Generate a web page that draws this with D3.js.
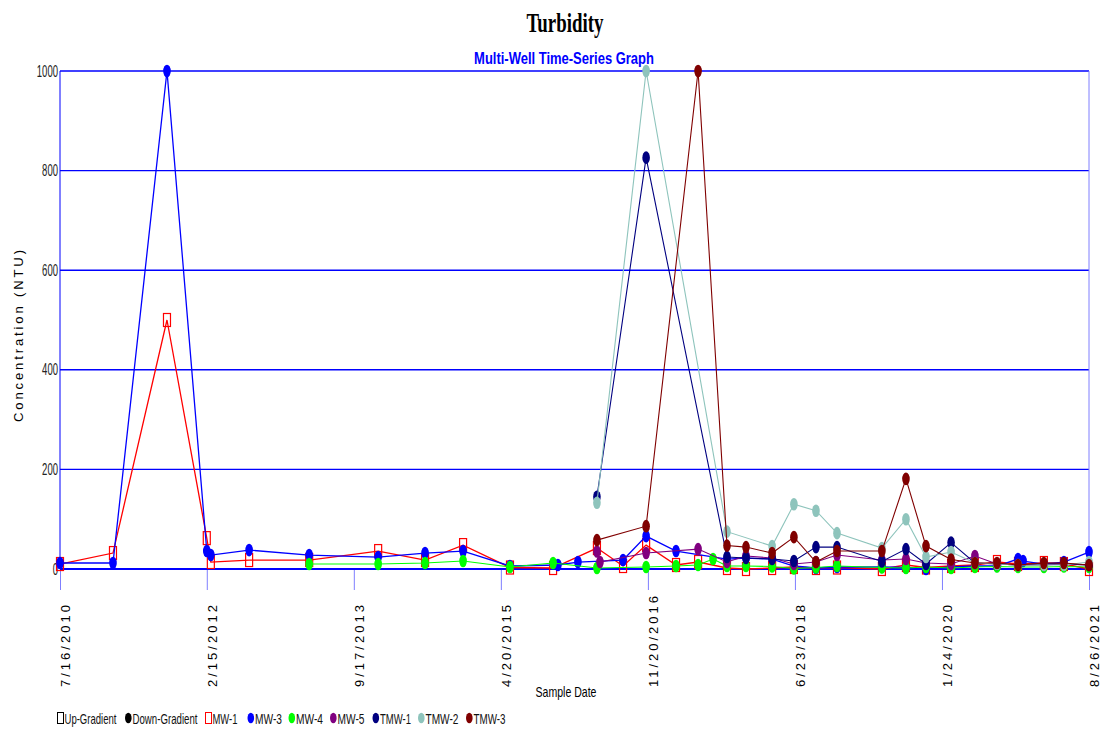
<!DOCTYPE html>
<html>
<head>
<meta charset="utf-8">
<script src="https://cdn.jsdelivr.net/npm/d3@7"></script>
<style>
  html, body { margin: 0; padding: 0; background: #fff; }
  svg { display: block; }
  text { font-family: "Liberation Sans", Arial, sans-serif; }
</style>
</head>
<body>
<svg id="chart" width="1108" height="733"></svg>
<script>
// ---------------- data ----------------
const seriesNames = ["MW-1", "MW-3", "MW-4", "MW-5", "TMW-1", "TMW-2", "TMW-3"];
const seriesColors = ["#ff0000", "#0000ff", "#00ff00", "#800080", "#000080", "#8ec4bc", "#800000"];

const mw1Dates = ["2010-07-16","2011-02-10","2011-09-11","2012-02-15","2012-03-02","2012-07-31","2013-03-25","2013-12-22","2014-06-25","2014-11-22","2015-05-26","2015-11-12","2016-05-03","2016-08-14","2016-11-13","2017-03-11","2017-06-06","2017-09-28","2017-12-12","2018-03-25","2018-06-19","2018-09-14","2018-12-06","2019-06-01","2019-09-04","2019-11-22","2020-02-29","2020-06-02","2020-08-28","2020-11-19","2021-03-01","2021-05-19","2021-08-26"];
const mw1Values = [10,32,500,62,14,18,18,36,18,48,3,2,42,6,48,8,14,2,0,2,4,2,3,0,8,3,6,8,14,10,12,10,0];

const mw3Dates = ["2010-07-16","2011-02-10","2011-09-11","2012-02-15","2012-03-02","2012-07-31","2013-03-25","2013-12-22","2014-06-25","2014-11-22","2015-05-26","2015-12-01","2016-02-18","2016-08-14","2016-11-13","2017-03-11","2017-09-28","2017-12-12","2018-03-25","2018-06-19","2018-09-14","2018-12-06","2019-06-01","2019-09-04","2019-11-22","2020-02-29","2020-06-02","2020-08-28","2020-11-19","2020-12-09","2021-03-01","2021-05-19","2021-08-26"];
const mw3Values = [12,12,1000,36,28,38,28,24,32,36,6,8,14,18,66,36,20,22,20,6,2,4,4,3,0,4,6,6,20,16,10,14,34];

const mw4Dates = ["2013-03-25","2013-12-22","2014-06-25","2014-11-22","2015-05-26","2015-11-12","2016-05-03","2016-11-13","2017-03-11","2017-06-06","2017-08-04","2017-09-28","2017-12-12","2018-03-25","2018-06-19","2018-09-14","2018-12-06","2019-06-01","2019-09-04","2019-11-22","2020-02-29","2020-06-02","2020-08-28","2020-11-19","2021-03-01","2021-05-19","2021-08-26"];
const mw4Values = [10,10,12,16,4,12,2,4,6,8,20,6,6,5,1,3,6,3,2,4,2,4,5,4,4,5,4];

const mw5Dates = ["2016-05-03","2016-05-15","2016-11-13","2017-06-06","2017-09-28","2017-12-12","2018-03-25","2018-06-19","2018-09-14","2018-12-06","2019-06-01","2019-09-04","2019-11-22","2020-02-29","2020-06-02","2020-08-28","2020-11-19","2021-03-01","2021-05-19","2021-08-26"];
const mw5Values = [35,14,32,40,14,26,22,10,14,28,18,20,12,10,26,10,8,8,10,8];

const tmw1Dates = ["2016-05-03","2016-11-13","2017-09-28","2017-12-12","2018-03-25","2018-06-19","2018-09-14","2018-12-06","2019-06-01","2019-09-04","2019-11-22","2020-02-29","2020-06-02","2020-08-28","2020-11-19","2021-03-01","2021-05-19","2021-08-26"];
const tmw1Values = [145,826,24,22,20,16,44,44,15,40,10,53,12,10,8,10,10,8];

const tmw2Dates = ["2016-05-03","2016-11-13","2017-09-28","2018-03-25","2018-06-19","2018-09-14","2018-12-06","2019-06-01","2019-09-04","2019-11-22","2020-02-29","2020-06-02","2020-08-28","2020-11-19","2021-03-01","2021-05-19","2021-08-26"];
const tmw2Values = [133,1000,75,46,130,117,72,42,100,24,34,12,10,8,8,8,14];

const tmw3Dates = ["2016-05-03","2016-11-13","2017-06-06","2017-09-28","2017-12-12","2018-03-25","2018-06-19","2018-09-14","2018-12-06","2019-06-01","2019-09-04","2019-11-22","2020-02-29","2020-06-02","2020-08-28","2020-11-19","2021-03-01","2021-05-19","2021-08-26"];
const tmw3Values = [58,86,1000,47,44,32,64,14,36,36,181,46,19,12,12,8,12,12,8];

const xTickLabels = ["7/16/2010","2/15/2012","9/17/2013","4/20/2015","11/20/2016","6/23/2018","1/24/2020","8/26/2021"];
const yTickValues = [0, 200, 400, 600, 800, 1000];
const legendLabels = ["Up-Gradient", "Down-Gradient", "MW-1", "MW-3", "MW-4", "MW-5", "TMW-1", "TMW-2", "TMW-3"];

// ---------------- setup ----------------
const parseISO = d3.timeParse("%Y-%m-%d");
const parseUS = d3.timeParse("%m/%d/%Y");
const svg = d3.select("#chart");

// squeeze a text horizontally to a target width (keeps anchor at x)
function squeeze(sel, w) {
  sel.each(function() {
    const t = d3.select(this);
    const nat = this.getComputedTextLength();
    const sx = Math.min(1, w / nat);
    const x0 = +t.attr("x") || 0, y0 = +t.attr("y") || 0;
    t.attr("transform", `translate(${x0},${y0}) scale(${sx},1)`).attr("x", 0).attr("y", 0);
  });
}

const allDates = [mw1Dates, mw3Dates, mw4Dates, mw5Dates, tmw1Dates, tmw2Dates, tmw3Dates];
const allValues = [mw1Values, mw3Values, mw4Values, mw5Values, tmw1Values, tmw2Values, tmw3Values];
const series = seriesNames.map((name, i) => ({
  name, color: seriesColors[i], square: i === 0,
  points: allDates[i].map((d, j) => ({ date: parseISO(d), value: allValues[i][j] }))
}));

const pL = 60, pR = 1089, pT = 71, pB = 569;
const x = d3.scaleTime()
  .domain([parseUS(xTickLabels[0]), parseUS(xTickLabels[xTickLabels.length - 1])])
  .range([pL, pR]);
const y = d3.scaleLinear().domain([0, 1000]).range([pB, pT]);

// ---------------- grid ----------------
svg.append("g").selectAll("line").data(yTickValues.filter(v => v > 0)).join("line")
  .attr("x1", pL).attr("x2", pR)
  .attr("y1", d => y(d)).attr("y2", d => y(d))
  .attr("stroke", "#0000ff").attr("stroke-width", 1.4);

// right border
svg.append("line").attr("x1", pR).attr("x2", pR).attr("y1", pT).attr("y2", pB)
  .attr("stroke", "#7f7fff").attr("stroke-width", 1);

// x axis ticks
const xAxis = d3.axisBottom(x)
  .tickValues(xTickLabels.map(parseUS))
  .tickFormat(d3.timeFormat("%-m/%-d/%Y"))
  .tickSize(21).tickSizeOuter(0);
const gx = svg.append("g").attr("transform", `translate(0,${pB})`).call(xAxis);
gx.select(".domain").remove();
gx.selectAll(".tick line").attr("stroke", "#7f7fff").attr("stroke-width", 1);
gx.selectAll(".tick text")
  .attr("x", null).attr("y", null).attr("dy", null)
  .attr("transform", "translate(5,118) rotate(-90)")
  .attr("text-anchor", "start")
  .attr("dominant-baseline", "central")
  .attr("fill", "#000")
  .style("font-size", "13px")
  .attr("textLength", function() { return this.textContent.length * 9.1; })
  .attr("lengthAdjust", "spacing");

// left axis line
svg.append("line").attr("x1", pL).attr("x2", pL).attr("y1", pT).attr("y2", pB)
  .attr("stroke", "#0000ff").attr("stroke-width", 1);
// zero baseline
svg.append("line").attr("x1", pL).attr("x2", pR).attr("y1", pB).attr("y2", pB)
  .attr("stroke", "#0000ff").attr("stroke-width", 2);

// y axis labels
const yAxis = d3.axisLeft(y).tickValues(yTickValues).tickFormat(d3.format("d")).tickSize(0).tickPadding(2);
const gy = svg.append("g").attr("transform", `translate(${pL},0)`).call(yAxis);
gy.select(".domain").remove();
gy.selectAll(".tick text")
  .attr("fill", "#222")
  .style("font-size", "16px")
  .each(function(d) {
    const t = d3.select(this);
    const nat = this.getComputedTextLength();
    const sx = (String(d).length * 5.3) / nat;
    t.attr("transform", `translate(-2,0) scale(${sx},1)`).attr("x", 0);
  });

// ---------------- series ----------------
const line = d3.line().x(d => x(d.date)).y(d => y(d.value));
series.forEach(s => {
  const g = svg.append("g");
  g.append("path").datum(s.points).attr("d", line)
    .attr("fill", "none").attr("stroke", s.color)
    .attr("stroke-width", s.square || s.name === "MW-3" ? 1.3 : 1.1);
  if (s.square) {
    g.selectAll("rect").data(s.points).join("rect")
      .attr("x", d => x(d.date) - 3.5).attr("y", d => y(d.value) - 6.5)
      .attr("width", 7).attr("height", 13)
      .attr("fill", "none").attr("stroke", s.color).attr("stroke-width", 1.2);
  } else {
    g.selectAll("ellipse").data(s.points).join("ellipse")
      .attr("cx", d => x(d.date)).attr("cy", d => y(d.value))
      .attr("rx", 3.8).attr("ry", 6.3)
      .attr("fill", s.color);
  }
});

// ---------------- titles ----------------
svg.append("text").attr("x", 565).attr("y", 32).attr("text-anchor", "middle")
  .style("font-family", "'Liberation Serif', 'Times New Roman', serif")
  .style("font-weight", "bold").style("font-size", "27px")
  .text("Turbidity").call(squeeze, 77);
svg.append("text").attr("x", 564).attr("y", 64).attr("text-anchor", "middle")
  .style("font-weight", "bold").style("font-size", "16px").attr("fill", "#0000ff")
  .text("Multi-Well Time-Series Graph").call(squeeze, 180);

svg.append("text").attr("transform", "translate(18,336) rotate(-90)")
  .attr("text-anchor", "middle").attr("dominant-baseline", "central")
  .style("font-size", "13px")
  .attr("textLength", 172).attr("lengthAdjust", "spacing")
  .text("Concentration (NTU)");

svg.append("text").attr("x", 566).attr("y", 697).attr("text-anchor", "middle")
  .style("font-size", "14px")
  .text("Sample Date").call(squeeze, 61);

// ---------------- legend ----------------
const legendX = [57, 125, 205, 247.5, 288.5, 330, 372.5, 418, 466];
const legendTextW = [52, 65, 25, 27, 27, 27, 31, 33, 32];
const legendColors = ["#000", "#000"].concat(seriesColors);
const legendY = 718;
const lg = svg.append("g");
legendLabels.forEach((lab, i) => {
  const mx = legendX[i];
  const isSquare = i === 0 || i === 2;
  if (isSquare) {
    lg.append("rect").attr("x", mx + 0.5).attr("y", legendY - 5.5).attr("width", 6).attr("height", 11)
      .attr("fill", "none").attr("stroke", legendColors[i]).attr("stroke-width", 1);
  } else {
    lg.append("ellipse").attr("cx", mx + 3.3).attr("cy", legendY).attr("rx", 3.3).attr("ry", 5.3)
      .attr("fill", legendColors[i]);
  }
  lg.append("text").attr("x", mx + 7.5).attr("y", legendY + 6)
    .style("font-size", "15px").attr("fill", "#111")
    .text(lab).call(squeeze, legendTextW[i]);
});
</script>
</body>
</html>
